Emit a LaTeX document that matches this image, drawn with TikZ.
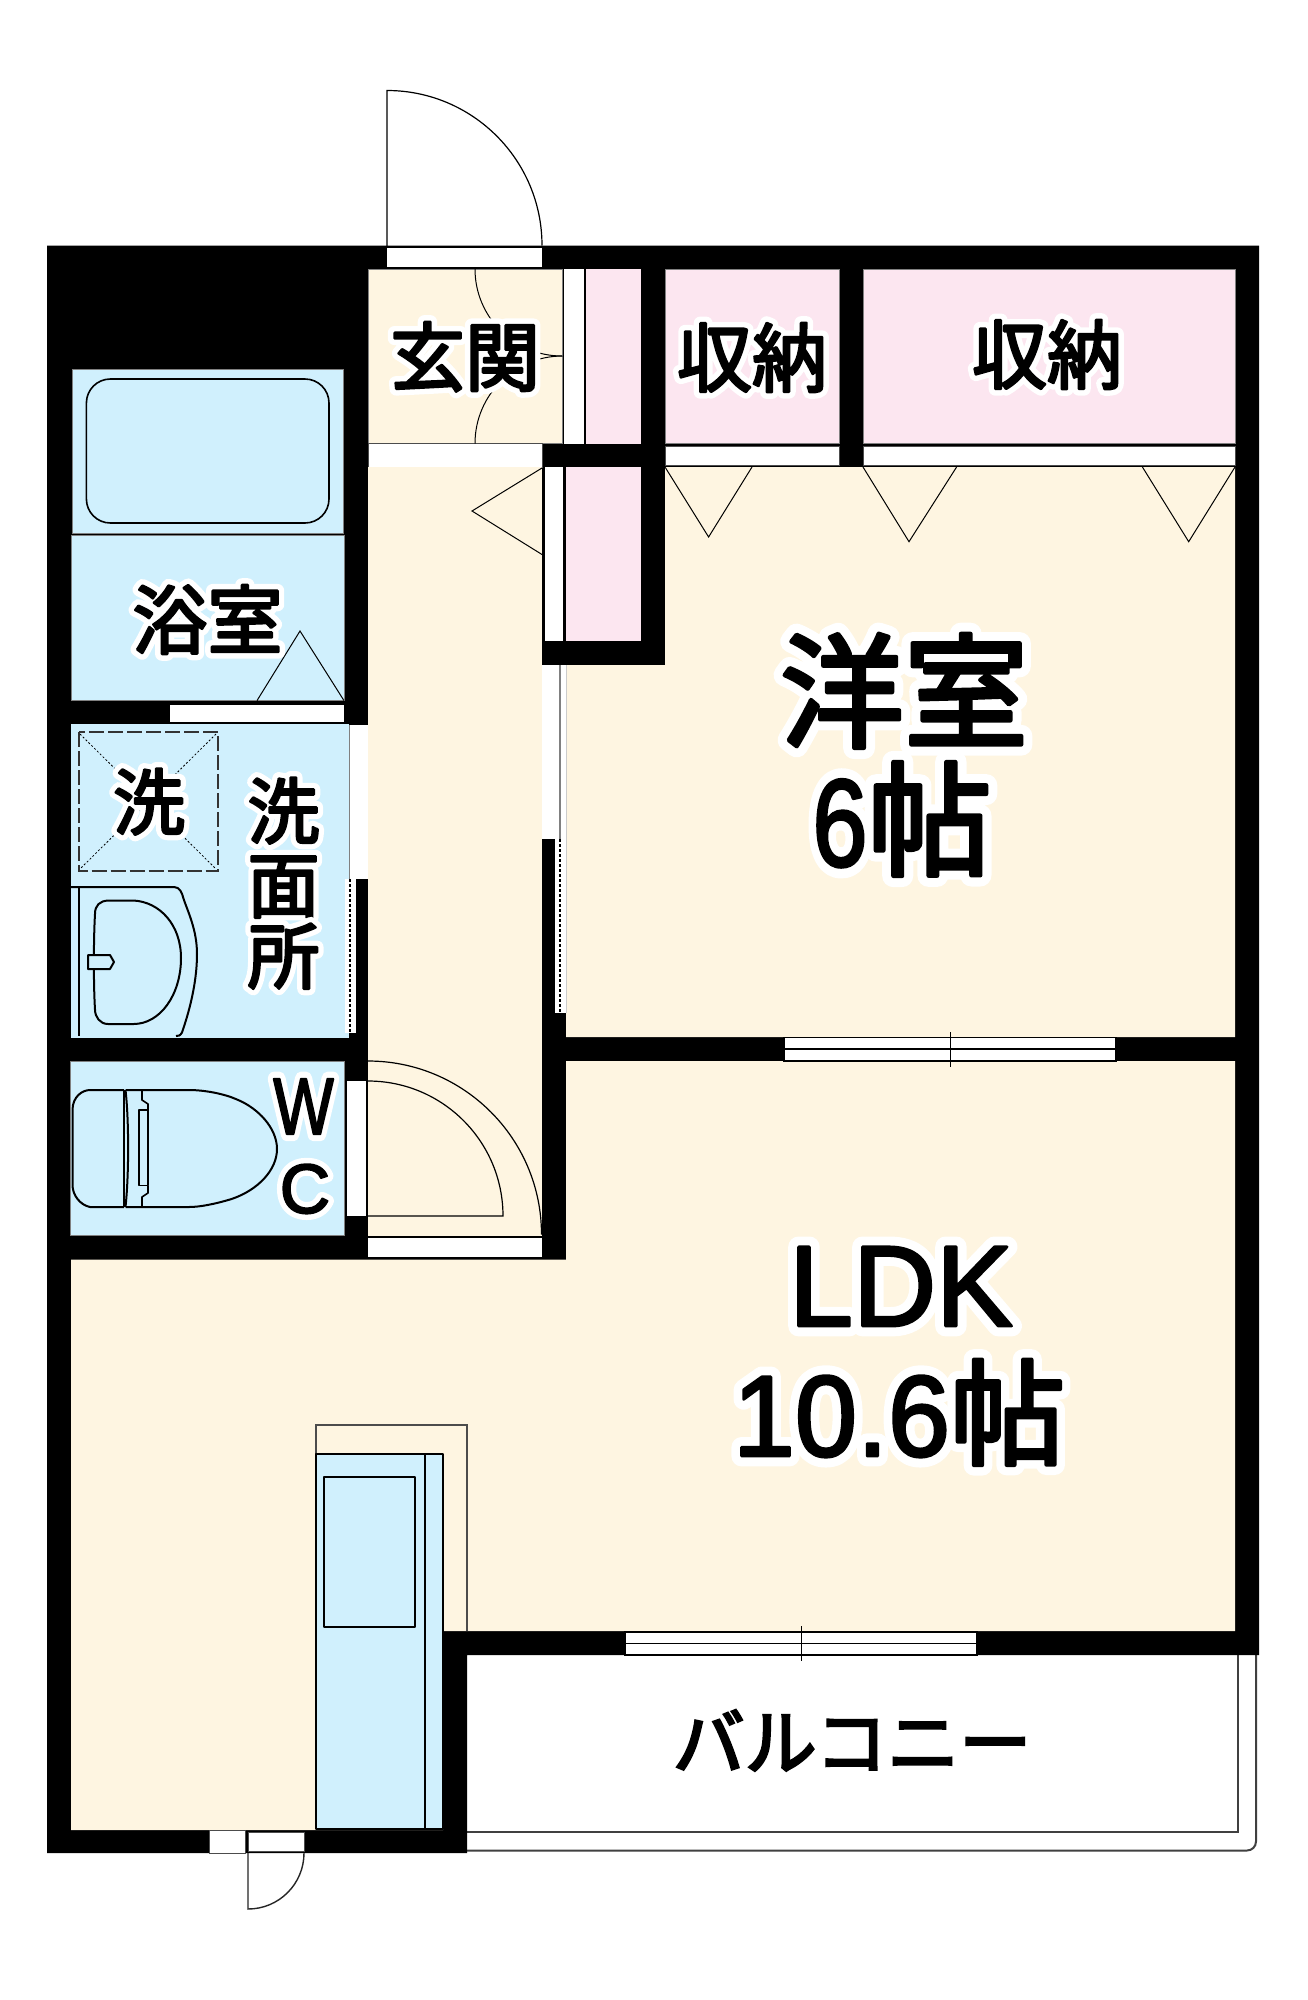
\documentclass[tikz,border=0pt]{standalone}
\usepackage{fontspec}
\newfontfamily\jp[FakeBold=3.5]{Noto Sans CJK JP}
\newfontfamily\jph[FakeBold=18]{Noto Sans CJK JP}
\newfontfamily\lat[FakeBold=2.5]{Liberation Sans}
\newfontfamily\lath[FakeBold=18]{Liberation Sans}
\definecolor{cream}{HTML}{FEF5E1}
\definecolor{pinkroom}{HTML}{FCE6F0}
\definecolor{blueroom}{HTML}{D0F0FD}
\newcommand{\roundjoin}{\special{pdf:code 1 j 1 J}}
\newcommand{\hj}[2]{\fontsize{#1}{#1}\selectfont\roundjoin\rlap{\color{white}\jph #2}\jp #2}
\newcommand{\hl}[2]{\fontsize{#1}{#1}\selectfont\roundjoin\rlap{\color{white}\lath #2}\lat #2}
\tikzset{
  cream room/.style={fill=cream,draw=black!50,line width=.6pt},
  pink room/.style={fill=pinkroom,draw=black!50,line width=.6pt},
  blue room/.style={fill=blueroom,draw=black!50,line width=.6pt},
  opening/.style={fill=white,draw=black!70,line width=.8pt},
  fixture/.style={draw=black,line width=2pt,line join=round},
  thinline/.style={draw=black,line width=1pt},
  label/.style={inner sep=0pt,anchor=base,text=black},
  pane/.style={fill=white,draw=black,line width=1.2pt},
}
\begin{document}
\begin{tikzpicture}[x=1pt,y=-1pt]
\useasboundingbox (0,0) rectangle (1307,2000);
\fill[white] (0,0) rectangle (1307,2000);
% entrance door swing
\draw[thinline,line width=1.2pt] (387,246) -- (387,90.5) arc[start angle=-90,end angle=0,radius=155];
% balcony
\draw[line width=2pt,draw=black!75] (467,1832) -- (1238,1832) -- (1238,1655);
\draw[line width=2pt,draw=black!75,rounded corners=9pt] (467,1850.5) -- (1256,1850.5) -- (1256,1655);
% walls
\fill[black] (47,245.5) -- (1259,245.5) -- (1259,1655) -- (467,1655) -- (467,1853) -- (47,1853) -- cycle;
% rooms
\path[blue room] (72,369) rectangle (343,533);
\path[blue room] (71,535) rectangle (344,700.6);
\path[opening,draw=none] (169.5,704.5) rectangle (344,721.8);
\path[blue room,draw=none] (70.7,724.4) rectangle (349,1037.5);
\path[blue room] (70.7,1061) rectangle (344,1235);
\path[fill=white] (347,1081) rectangle (365.5,1216);
\path[cream room] (368,269) rectangle (562,443.5);
\path[opening,draw=none] (387,247.5) rectangle (542,266.7);
\path[fill=white] (564,269) rectangle (583.5,443.5);
\path[pink room,draw=none] (586,269) rectangle (641,443.5);
\path[opening] (368,443.5) rectangle (542,467);
\path[cream room,draw=none] (368,467) rectangle (542,1235.5);
\path[opening,draw=none] (368,1238) rectangle (542,1257);
\path[fill=white] (545,467) rectangle (563,641.4);
\path[pink room,draw=none] (565.5,467) rectangle (641,641.4);
\path[pink room] (665,269) rectangle (839,443);
\path[pink room] (863,269) rectangle (1235,443);
\path[opening] (665,446) rectangle (839,465);
\path[opening] (863,446) rectangle (1235,465);
\path[cream room,draw=none] (566,665) -- (665,665) -- (665,467) -- (1235,467) -- (1235,1037) -- (566,1037) -- cycle;
\path[cream room,draw=none] (71,1259.5) -- (566,1259.5) -- (566,1061) -- (1235,1061) -- (1235,1631) -- (443,1631) -- (443,1830) -- (71,1830) -- cycle;
% sliding door to western room
\path[fill=white] (542,665) rectangle (566,839);
\draw[draw=black!50,line width=1.5pt] (560,665) -- (560,839);
\draw[draw=black!20,line width=1pt] (566,665) -- (566,1013);
\path[fill=white] (555,839) rectangle (566,1013);
\draw[black,line width=1.4pt,dash pattern=on 3pt off 2pt] (560,839) -- (560,1013);
% sliding door to washroom
\path[fill=white] (350,725) rectangle (368,879);
\draw[draw=black!50,line width=1.5pt] (349.5,725) -- (349.5,879);
\path[fill=white] (345,879) rectangle (355.6,1033);
\draw[black,line width=1.4pt,dash pattern=on 3pt off 2pt] (350,879) -- (350,1033);
% windows
\path[pane] (784,1037.5) rectangle (1116,1061);
\draw[thinline,line width=1.2pt] (784,1049) -- (1116,1049);
\draw[thinline] (950,1032) -- (950,1067);
\path[pane] (625,1632) rectangle (977,1655);
\draw[thinline,line width=1.2pt] (625,1643.5) -- (977,1643.5);
\draw[thinline] (801.5,1626) -- (801.5,1661);
\path[opening] (209,1830) rectangle (245,1853);
\path[opening] (248,1832) rectangle (304,1851);
\draw[thinline,line width=1.4pt,draw=black!85] (248,1853) -- (248,1909) arc[start angle=90,end angle=0,radius=56];
% door swing triangles
\draw[thinline] (542,468) -- (472,511) -- (542,554.5);
\draw[thinline] (257,700.6) -- (300,631) -- (344,700.6);
\draw[thinline] (665,467) -- (708.6,537) -- (752,467);
\draw[thinline] (863,467) -- (909,541.7) -- (956.6,467);
\draw[thinline] (1142.4,467) -- (1188.7,541.7) -- (1235,467);
% entrance cabinet swings
\draw[thinline] (475,269) arc[start angle=180,end angle=90,radius=87];
\draw[thinline] (475,443.5) arc[start angle=180,end angle=270,radius=87.5];
% WC door swing
\draw[thinline,line width=1.2pt] (368,1061) arc[start angle=-90,end angle=0,radius=173.5];
\draw[thinline,line width=1.2pt] (368,1081) arc[start angle=-90,end angle=0,radius=135] -- (368,1216);
% bath tub
\draw[fixture,line width=1.6pt,rounded corners=24pt] (86.4,379) rectangle (329,523);
% laundry pan
\draw[draw=black!80,line width=2pt,dash pattern=on 15pt off 4pt] (78.5,732) rectangle (218,871);
\draw[draw=black,line width=.8pt,dash pattern=on 2pt off 2pt] (80,734) -- (216,869) (216,734) -- (80,869);
% wash basin
\draw[fixture,line width=1.6pt] (79,887) -- (79,1036);
\draw[fixture] (71,887) -- (174,887) .. controls (180,887) and (182,893) .. (183.5,898.6) .. controls (188,912) and (197,930) .. (197,954) .. controls (197,985) and (188,1015) .. (182,1032.5) .. controls (180,1036) and (178,1036) .. (176,1036);
\draw[fixture] (95,914) .. controls (95,905) and (100,901) .. (108,900.5) -- (133.6,900.5) .. controls (160,902) and (181,925) .. (181,958) .. controls (181,995) and (160,1024) .. (133.6,1024) -- (108,1024) .. controls (100,1024) and (95,1017) .. (95,1009.5) .. controls (93.5,985) and (93.5,940) .. (95,914) -- cycle;
\draw[fixture,fill=blueroom] (88,955) -- (110,955) -- (114,962) -- (110,969) -- (88,969) -- cycle;
% toilet
\draw[fixture] (124,1207) -- (90,1207) .. controls (80,1205) and (72.5,1195) .. (72.5,1185) -- (72.5,1110) .. controls (72.5,1097) and (82,1090) .. (90,1090) -- (124,1090);
\draw[fixture] (125.5,1090) .. controls (129,1120) and (129,1175) .. (125.5,1207);
\draw[fixture] (124,1090) -- (124,1207);
\draw[fixture] (125.5,1090) -- (189,1090) .. controls (205,1090) and (225,1094) .. (237,1099.5) .. controls (258,1108) and (277,1128) .. (277,1149) .. controls (277,1170) and (258,1190) .. (231.6,1199) .. controls (215,1204) and (200,1207) .. (189,1207) -- (125.5,1207);
\draw[fixture,line width=1.6pt] (139,1110) rectangle (148,1185.6);
\draw[fixture,line width=1.6pt] (142,1090) -- (142,1100) -- (148,1104) -- (148,1110) (142,1207) -- (142,1197) -- (148,1193) -- (148,1185.6);
% kitchen
\draw[draw=black!70,line width=1.6pt] (316,1454) -- (316,1425) -- (467,1425) -- (467,1631);
\draw[fixture,fill=blueroom] (316,1454) rectangle (443,1829);
\draw[fixture] (425,1454) -- (425,1829);
\draw[fixture,fill=blueroom] (324,1477) rectangle (415,1627);
% labels
\node[label] (genkan) at (465,385) {\hj{75}{玄関}};
\node[label] (shuno1) at (752,386) {\hj{75}{収納}};
\node[label] (shuno2) at (1047,383) {\hj{75}{収納}};
\node[label] (yoku) at (207.5,648) {\hj{75}{浴室}};
\node[label] (sen) at (149,829) {\hj{72}{洗}};
\node[label] (men1) at (283.5,838) {\hj{72}{洗}};
\node[label] (men2) at (283.5,912) {\hj{72}{面}};
\node[label] (men3) at (283.5,983) {\hj{72}{所}};
\node[label] (w) at (303.5,1134) {\hl{80}{\scalebox{.8}[1]{W}}};
\node[label] (c) at (305,1213) {\hl{70}{C}};
\node[label] (yoshitsu) at (904,738) {\hj{124}{洋室}};
\node[label] (roku) at (902,866) {\fontsize{124}{124}\selectfont\roundjoin\rlap{\color{white}\lath\scalebox{.8}[1]{6}\jph 帖}\lat\scalebox{.8}[1]{6}\jp 帖};
\node[label] (ldk) at (901,1326) {\hl{115}{LDK}};
\node[label] (juroku) at (899,1456) {\fontsize{115}{115}\selectfont\roundjoin\rlap{\color{white}\lath\scalebox{.97}[1]{10.6}\jph 帖}\lat\scalebox{.97}[1]{10.6}\jp 帖};
\node[label] (balcony) at (852,1769) {\fontsize{72}{72}\selectfont\jp バルコニー};
\end{tikzpicture}
\end{document}
